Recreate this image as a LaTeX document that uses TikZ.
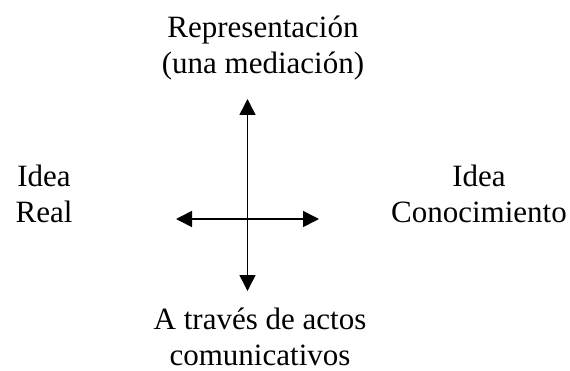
\documentclass[tikz,border=0pt]{standalone}
\usepackage{fontspec}
\setmainfont{Liberation Serif}
\usetikzlibrary{positioning}
\usetikzlibrary{arrows.meta}
\tikzset{
    flecha/.style = {{Triangle[length=16pt,width=16pt]}-{Triangle[length=16pt,width=16pt]},line width=1.6pt},
    texto/.style = {align=center,inner sep=0pt,font=\fontsize{31}{36}\selectfont}
}
\begin{document}
\begin{tikzpicture}[x=1pt,y=1pt]
  \useasboundingbox (0,0) rectangle (570,370);
  % ejes
  \coordinate (centro) at (247.5,151);
  \coordinate (arriba) at (247.5,271);
  \coordinate (abajo) at (247.5,79);
  \coordinate (izq) at (176,151);
  \coordinate (der) at (319,151);

  \node[texto] (rep) at (263,322.4) {Representación\\(una mediación)};
  \node[texto] (real) at (44,176) {Idea\\Real};
  \node[texto] (cono) at (479,176) {Idea\\Conocimiento};
  \node[texto] (actos) at (260,33.5) {A través de actos\\comunicativos};

  \draw[flecha] (abajo) -- (arriba);
  \draw[flecha] (izq) -- (der);
\end{tikzpicture}
\end{document}
